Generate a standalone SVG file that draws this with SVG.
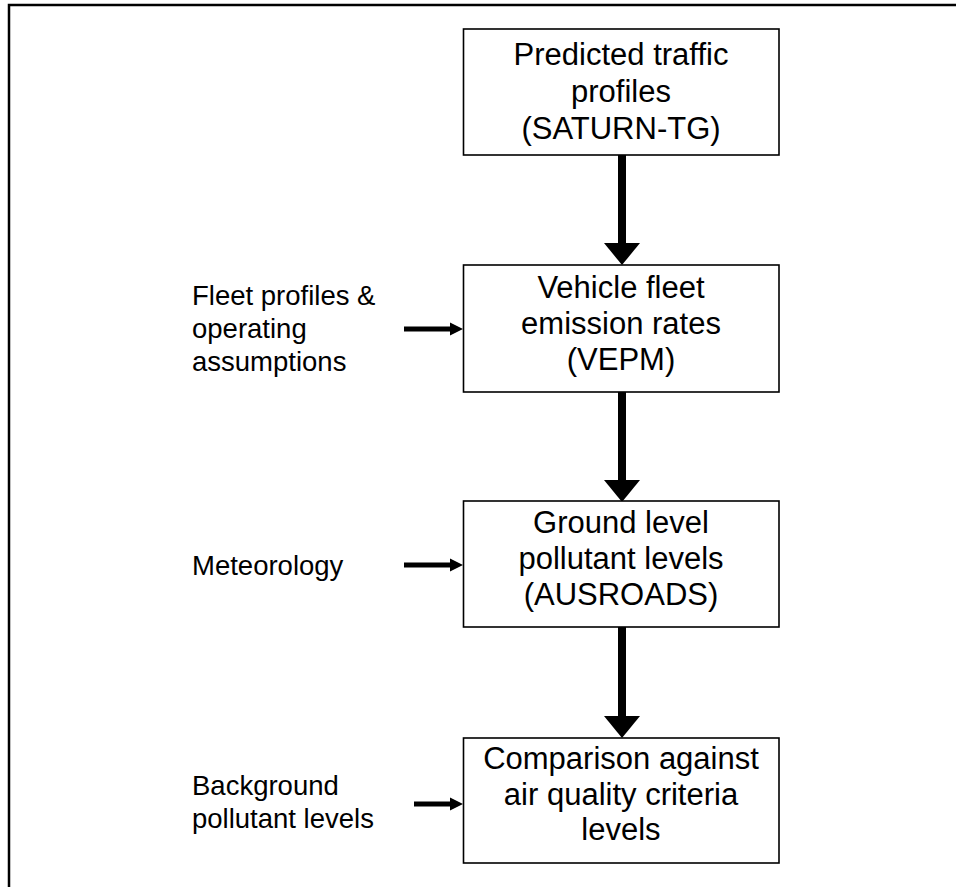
<svg xmlns="http://www.w3.org/2000/svg" width="956" height="887" viewBox="0 0 956 887">
<style>
.box{fill:#fff;stroke:#000;stroke-width:1.6}
.bt{font-family:"Liberation Sans",Arial,sans-serif;font-size:31px;fill:#000;text-anchor:middle}
.st{font-family:"Liberation Sans",Arial,sans-serif;font-size:27.5px;fill:#000}
.v{stroke:#000;stroke-width:8;fill:none}
.h{stroke:#000;stroke-width:5;fill:none}
</style>
<defs>
<marker id="vhead" markerUnits="userSpaceOnUse" markerWidth="22" markerHeight="36" refX="0" refY="18" orient="auto" overflow="visible">
<path d="M0,0 L22,18 L0,36 Z" fill="#000"/>
</marker>
<marker id="hhead" markerUnits="userSpaceOnUse" markerWidth="13" markerHeight="13" refX="0" refY="6.5" orient="auto" overflow="visible">
<path d="M0,0 L13,6.5 L0,13 Z" fill="#000"/>
</marker>
</defs>
<rect width="956" height="887" fill="#fff"/>
<path d="M9,887 L9,5 L956,5" fill="none" stroke="#000" stroke-width="2.5"/>
<g id="connectors">
<line class="v" x1="622" y1="155" x2="622" y2="243" marker-end="url(#vhead)"/>
<line class="v" x1="622" y1="392" x2="622" y2="480" marker-end="url(#vhead)"/>
<line class="v" x1="622" y1="627" x2="622" y2="716" marker-end="url(#vhead)"/>
<line class="h" x1="404" y1="329" x2="450" y2="329" marker-end="url(#hhead)"/>
<line class="h" x1="404" y1="565" x2="450" y2="565" marker-end="url(#hhead)"/>
<line class="h" x1="414" y1="804" x2="450" y2="804" marker-end="url(#hhead)"/>
</g>
<g id="node-traffic">
<rect class="box" x="463.5" y="29" width="315.5" height="126"/>
<text class="bt" x="621" y="65">Predicted traffic</text>
<text class="bt" x="621" y="102">profiles</text>
<text class="bt" x="621" y="139">(SATURN-TG)</text>
</g>
<g id="node-vepm">
<rect class="box" x="463.5" y="265" width="315.5" height="127"/>
<text class="bt" x="621" y="298">Vehicle fleet</text>
<text class="bt" x="621" y="334">emission rates</text>
<text class="bt" x="621" y="370">(VEPM)</text>
</g>
<g id="node-ausroads">
<rect class="box" x="463.5" y="501" width="315.5" height="126"/>
<text class="bt" x="621" y="533">Ground level</text>
<text class="bt" x="621" y="569">pollutant levels</text>
<text class="bt" x="621" y="605">(AUSROADS)</text>
</g>
<g id="node-comparison">
<rect class="box" x="463.5" y="738" width="315.5" height="125"/>
<text class="bt" x="621" y="769">Comparison against</text>
<text class="bt" x="621" y="805">air quality criteria</text>
<text class="bt" x="621" y="840">levels</text>
</g>
<g id="input-fleet">
<text class="st" x="192" y="305">Fleet profiles &amp;</text>
<text class="st" x="192" y="338">operating</text>
<text class="st" x="192" y="371">assumptions</text>
</g>
<g id="input-meteorology">
<text class="st" x="192" y="575">Meteorology</text>
</g>
<g id="input-background">
<text class="st" x="192" y="795">Background</text>
<text class="st" x="192" y="828">pollutant levels</text>
</g>
</svg>
